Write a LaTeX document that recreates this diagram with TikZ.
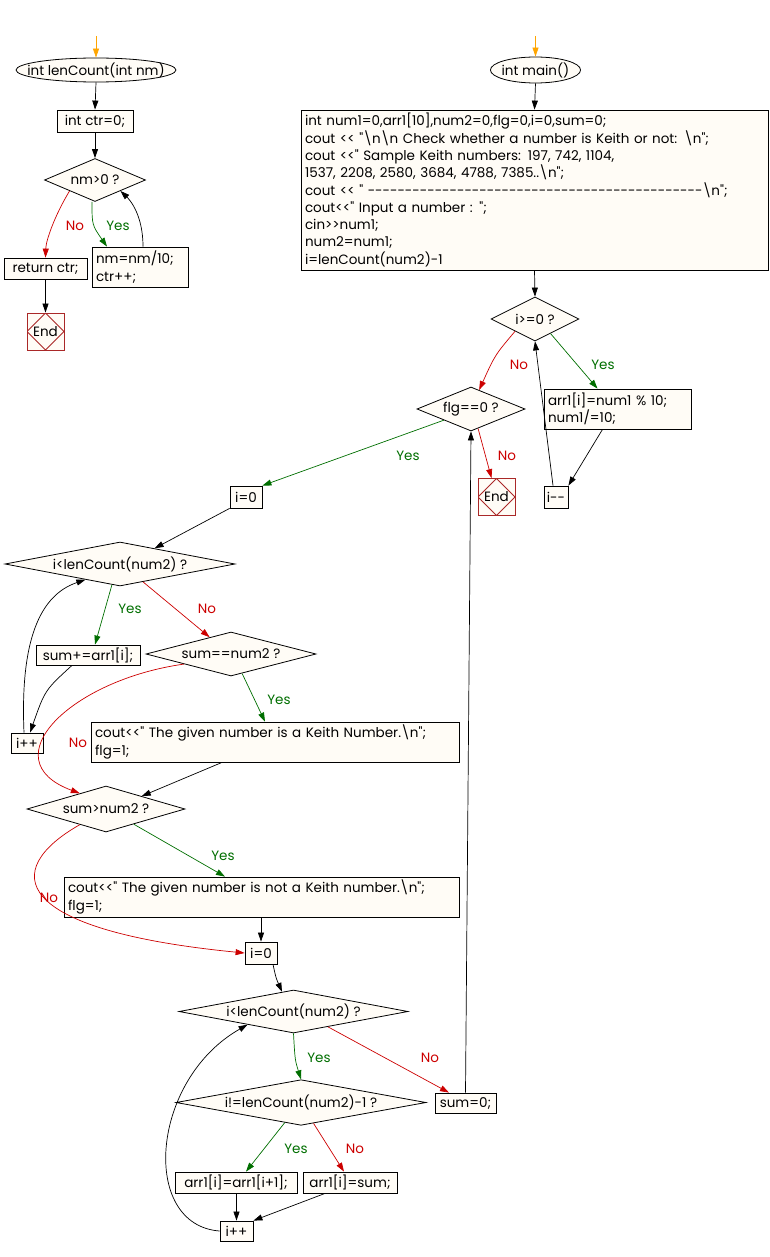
\documentclass[tikz,border=0pt]{standalone}
\usepackage{fontspec}
\newfontfamily\flowfont{Poppins}
\usetikzlibrary{positioning,calc,shapes.geometric,arrows.meta}
\definecolor{boxfill}{RGB}{255,252,246}
\definecolor{yesgreen}{RGB}{0,110,0}
\definecolor{nored}{RGB}{204,0,0}
\definecolor{endred}{RGB}{170,40,40}
\definecolor{startorange}{RGB}{255,165,0}
\newcommand{\flowsize}{\flowfont\fontsize{13.5}{17.3}\selectfont}
\newcommand{\bs}{\textbackslash}

\tikzset{
  base/.style={draw, fill=boxfill, line width=0.8pt, font=\flowsize},
  proc/.style={base, inner xsep=4pt, inner ysep=2pt},
  txtbox/.style={proc, align=left},
  cond/.style={base, diamond, aspect=5, inner sep=0pt},
  term/.style={base, ellipse, inner sep=0pt},
  stopbox/.style={base, draw=endred, minimum size=37, inner sep=0pt,
    path picture={\draw[endred, line width=0.8pt] (path picture bounding box.north)
      -- (path picture bounding box.east) -- (path picture bounding box.south)
      -- (path picture bounding box.west) -- cycle;}},
  flow/.style={-{Triangle[length=9pt,width=6pt]}, line width=0.7pt},
  yesline/.style={flow, draw=yesgreen},
  noline/.style={flow, draw=nored},
  yeslbl/.style={text=yesgreen, font=\flowsize},
  nolbl/.style={text=nored, font=\flowsize}
}

\begin{document}
\begin{tikzpicture}[x=1pt, y=-1pt]
    \useasboundingbox (0,0) rectangle (770,1257);

    % lenCount
    \coordinate (lstart) at (96,36);
    \node[term, minimum width=160, minimum height=24, inner xsep=-18pt] (lc) at (96,70) {int lenCount(int nm)};
    \node[proc, minimum width=76, minimum height=22] (ctr) at (95,121) {int ctr=0;};
    \node[cond, minimum width=101, minimum height=43, aspect=3] (nm) at (95,180) {nm>0 ?};
    \node[proc, minimum width=83, minimum height=21] (ret) at (45.5,268.5) {return ctr;};
    \node[txtbox, text width=88, minimum height=40] (div) at (140,267) {nm=nm/10;\\ctr++;};
    \node[stopbox] (lend) at (45.5,331.5) {End};

    % main
    \coordinate (mstart) at (535.5,36);
    \node[term, minimum width=83, minimum height=26, inner xsep=-2pt] (mn) at (535.5,70) {int main()};
    \node[txtbox, text width=459, minimum height=160] (init) at (534.5,190)
      {int num1=0,arr1[10],num2=0,flg=0,i=0,sum=0;\\
       cout << "\bs n\bs n Check whether a number is Keith or not: \bs n";\\
       cout <<" Sample Keith numbers: 197, 742, 1104,\\
       1537, 2208, 2580, 3684, 4788, 7385..\bs n";\\
       cout << " ---------------------------------------------\bs n";\\
       cout<<" Input a number : ";\\
       cin>>num1;\\
       num2=num1;\\
       i=lenCount(num2)-1};
    \node[cond, minimum width=88, minimum height=44, aspect=2.5] (ige) at (535,319) {i>=0 ?};
    \node[txtbox, text width=139, minimum height=40] (mod) at (617.5,409) {arr1[i]=num1 \% 10;\\num1/=10;};
    \node[proc, minimum width=24, minimum height=22, inner xsep=2pt] (dec) at (556,497) {i--};
    \node[cond, minimum width=108, minimum height=44, aspect=2.5] (flg) at (471,409) {flg==0 ?};
    \node[stopbox] (mend) at (496.5,497) {End};

    % digit sums
    \node[proc, minimum width=32, minimum height=22] (i0a) at (246,497) {i=0};
    \node[cond, minimum width=230, minimum height=44] (lc1) at (120,564) {i<lenCount(num2) ?};
    \node[proc, minimum width=104, minimum height=20] (acc) at (88,655) {sum+=arr1[i];};
    \node[proc, minimum width=32, minimum height=20] (inc1) at (27,743) {i++};
    \node[cond, minimum width=170, minimum height=44] (eq) at (231,654) {sum==num2 ?};
    \node[txtbox, text width=360, minimum height=40] (keith) at (275,742)
      {cout<<" The given number is a Keith Number.\bs n";\\flg=1;};
    \node[cond, minimum width=158, minimum height=46] (gt) at (106,809) {sum>num2 ?};
    \node[txtbox, text width=387, minimum height=40] (notk) at (261.5,897)
      {cout<<" The given number is not a Keith number.\bs n";\\flg=1;};

    % shift
    \node[proc, minimum width=32, minimum height=22] (i0b) at (261,953) {i=0};
    \node[cond, minimum width=229, minimum height=43] (lc2) at (293.5,1011.5) {i<lenCount(num2) ?};
    \node[cond, minimum width=250, minimum height=45] (last) at (301,1102.5) {i!=lenCount(num2)-1 ?};
    \node[proc, minimum width=61, minimum height=20] (zero) at (465.5,1103) {sum=0;};
    \node[proc, minimum width=122, minimum height=21, inner xsep=2pt] (shift) at (236,1182.5) {arr1[i]=arr1[i+1];};
    \node[proc, minimum width=94, minimum height=21] (setsum) at (350,1182.5) {arr1[i]=sum;};
    \node[proc, minimum width=33, minimum height=20] (inc2) at (236.5,1231) {i++};

    % connectors, lenCount
    \draw[flow, draw=startorange] (lstart) -- (lc.north);
    \draw[flow] (lc.south) -- (ctr.north);
    \draw[flow] (ctr.south) -- (nm.north);
    \draw[noline] (nm.south west) .. controls (55,215) and (46,240) .. (ret.north);
    \draw[yesline] ([xshift=-3]nm.south) .. controls (92,225) .. ([xshift=-33]div.north);
    \draw[flow] ([xshift=3]div.north) .. controls (143,215) and (130,200) .. (nm.south east);
    \draw[flow] (ret.south) -- (lend.north);
    \node[nolbl] (lbl1) at (75,226) {No};
    \node[yeslbl] (lbl2) at (118,226) {Yes};

    % connectors, main
    \draw[flow, draw=startorange] (mstart) -- (mn.north);
    \draw[flow] (mn.south) -- (init.north);
    \draw[flow] (init.south) -- (ige.north);
    \draw[noline] ($(ige.south)!0.45!(ige.west)$) .. controls (495,355) .. ($(flg.north)!0.15!(flg.east)$);
    \draw[yesline] ($(ige.south)!0.35!(ige.east)$) -- ([xshift=-20]mod.north);
    \draw[flow] ([xshift=-15]mod.south) -- (dec.north east);
    \draw[flow] ([xshift=-3]dec.north) -- (ige.south);
    \draw[noline] ($(flg.south)!0.13!(flg.east)$) -- ([xshift=-5]mend.north);
    \draw[yesline] (flg.south west) -- (i0a.north east);
    \node[nolbl] (lbl3) at (519,365) {No};
    \node[yeslbl] (lbl4) at (603,365) {Yes};
    \node[yeslbl] (lbl5) at (408,456) {Yes};
    \node[nolbl] (lbl6) at (507,456) {No};

    \draw[flow] (i0a.south west) -- ($(lc1.north)!0.3!(lc1.east)$);
    \draw[yesline] ($(lc1.south)!0.07!(lc1.west)$) -- ([xshift=7]acc.north);
    \draw[noline] ($(lc1.south)!0.2!(lc1.east)$) -- ($(eq.north)!0.25!(eq.west)$);
    \draw[flow] ([xshift=-16]acc.south) .. controls (45,690) .. ([xshift=3]inc1.north);
    \draw[flow] ([xshift=-3]inc1.north) .. controls (20,640) and (40,595) .. ($(lc1.south)!0.3!(lc1.west)$);
    \draw[yesline] ($(eq.south)!0.13!(eq.east)$) -- ([xshift=-10]keith.north);
    \draw[noline] ($(eq.south)!0.55!(eq.west)$) .. controls (70,680) and (-10,760) .. ($(gt.north)!0.33!(gt.west)$);
    \draw[flow] ([xshift=-53]keith.south) -- ($(gt.north)!0.45!(gt.east)$);
    \draw[yesline] ($(gt.south)!0.35!(gt.east)$) -- ([xshift=-36.5]notk.north);
    \draw[noline] ($(gt.south)!0.33!(gt.west)$) .. controls (0,870) and (10,930) .. (i0b.west);
    \node[yeslbl] (lbl7) at (130,609) {Yes};
    \node[nolbl] (lbl8) at (207,609) {No};
    \node[yeslbl] (lbl9) at (279,700) {Yes};
    \node[nolbl] (lbl10) at (78,743) {No};
    \node[yeslbl] (lbl11) at (223,856) {Yes};
    \node[nolbl] (lbl12) at (49,898) {No};

    \draw[flow] (i0b.north |- notk.south) -- (i0b.north);
    \draw[flow] ([xshift=12]i0b.south) .. controls (276,978) .. ($(lc2.north)!0.1!(lc2.west)$);
    \draw[yesline] (lc2.south) .. controls (295,1060) .. (last.north);
    \draw[noline] ($(lc2.south)!0.3!(lc2.east)$) -- ([xshift=-16.5]zero.north);
    \draw[flow] (zero.north) -- (flg.south);
    \draw[yesline] ($(last.south)!0.13!(last.west)$) -- ([xshift=10]shift.north);
    \draw[noline] ($(last.south)!0.1!(last.east)$) -- ([xshift=-6]setsum.north);
    \draw[flow] (inc2.north |- shift.south) -- (inc2.north);
    \draw[flow] ([xshift=-25]setsum.south) -- (inc2.north east);
    \draw[flow] (inc2.west) .. controls (140,1225) and (150,1080) .. ($(lc2.south)!0.4!(lc2.west)$);
    \node[yeslbl] (lbl13) at (319,1058) {Yes};
    \node[nolbl] (lbl14) at (430,1058) {No};
    \node[yeslbl] (lbl15) at (296,1149) {Yes};
    \node[nolbl] (lbl16) at (355,1149) {No};
\end{tikzpicture}
\end{document}
